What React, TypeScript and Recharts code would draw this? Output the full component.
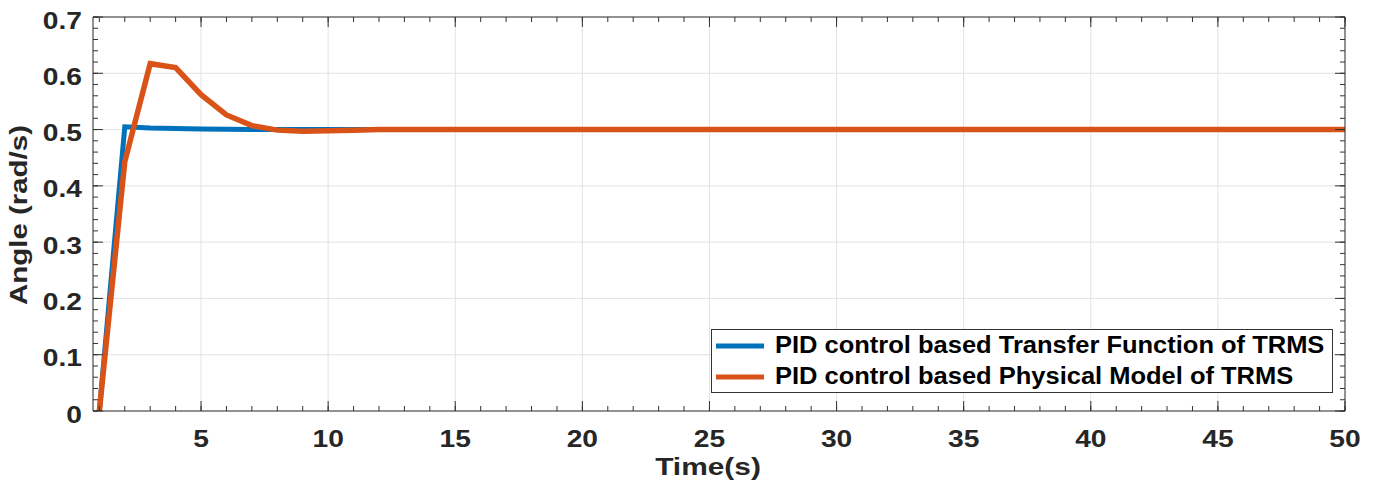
import React from 'react';
import { LineChart, Line, XAxis, YAxis, CartesianGrid, Legend } from 'recharts';

// values (time in s, angle in rad/s)
const time = [1, 2, 3, 4, 5, 6, 7, 8, 9, 10, 11, 12, 13, 50];
const transferFunction = [0, 0.505, 0.503, 0.502, 0.501, 0.5005, 0.5003, 0.5, 0.5, 0.5, 0.5, 0.5, 0.5, 0.5];
const physicalModel = [0, 0.443, 0.617, 0.61, 0.562, 0.526, 0.507, 0.499, 0.497, 0.498, 0.499, 0.5, 0.5, 0.5];

const xTicks = [5, 10, 15, 20, 25, 30, 35, 40, 45, 50];
const xMinorTicks = [
  1, 2, 3, 4, 5, 6, 7, 8, 9, 10, 11, 12, 13, 14, 15, 16, 17, 18, 19, 20, 21, 22, 23, 24, 25,
  26, 27, 28, 29, 30, 31, 32, 33, 34, 35, 36, 37, 38, 39, 40, 41, 42, 43, 44, 45, 46, 47, 48, 49, 50,
];
const yTicks = [0, 0.1, 0.2, 0.3, 0.4, 0.5, 0.6, 0.7];
const yMinorTicks = [
  0, 0.02, 0.04, 0.06, 0.08, 0.1, 0.12, 0.14, 0.16, 0.18, 0.2, 0.22, 0.24, 0.26, 0.28, 0.3, 0.32, 0.34,
  0.36, 0.38, 0.4, 0.42, 0.44, 0.46, 0.48, 0.5, 0.52, 0.54, 0.56, 0.58, 0.6, 0.62, 0.64, 0.66, 0.68, 0.7,
];

const seriesNames = [
  'PID control based Transfer Function of TRMS',
  'PID control based Physical Model of TRMS',
];

const data = time.map((t, i) => ({ t, tf: transferFunction[i], pm: physicalModel[i] }));

const FONT = '"Liberation Sans", Arial, Helvetica, sans-serif';
const INK = '#262626';
const X_DOMAIN: [number, number] = [0.75, 50];
const Y_DOMAIN: [number, number] = [0, 0.7];
const THIN = 0.01; // mirrored axes need a non-zero size to be drawn
const MAJOR = 10;
const MINOR = 5;

const XTick = (props: any) => {
  const { x, y, payload } = props;
  return (
    <text
      transform={`translate(${x},${y + 36}) scale(1.15,1)`}
      textAnchor="middle"
      fontFamily={FONT}
      fontWeight="bold"
      fontSize={24.5}
      fill={INK}
    >
      {payload.value}
    </text>
  );
};

const YTick = (props: any) => {
  const { x, y, payload } = props;
  return (
    <text
      transform={`translate(${x},${y + 11.5}) scale(1.15,1)`}
      textAnchor="end"
      fontFamily={FONT}
      fontWeight="bold"
      fontSize={24.5}
      fill={INK}
    >
      {payload.value}
    </text>
  );
};

// tick marks only, no label
const NoTick = () => null;

const XLabel = () => (
  <text
    transform="translate(708,475) scale(1.3,1)"
    textAnchor="middle"
    fontFamily={FONT}
    fontWeight="bold"
    fontSize={23}
    fill={INK}
  >
    Time(s)
  </text>
);

const YLabel = () => (
  <text
    transform="translate(27,215) rotate(-90) scale(1.28,1)"
    textAnchor="middle"
    fontFamily={FONT}
    fontWeight="bold"
    fontSize={23}
    fill={INK}
  >
    Angle (rad/s)
  </text>
);

const LegendBox = (props: any) => {
  const items = [...(props.payload || [])].sort(
    (a: any, b: any) => seriesNames.indexOf(a.value) - seriesNames.indexOf(b.value),
  );
  return (
    <div
      style={{
        width: 622,
        height: 64,
        border: '1px solid #333',
        background: '#fff',
        boxSizing: 'border-box',
        position: 'relative',
      }}
    >
      {items.map((entry: any, i: number) => (
        <div key={entry.value} style={{ position: 'absolute', left: 0, top: i * 31, height: 31, width: 620 }}>
          <svg width={48} height={6} style={{ position: 'absolute', left: 4, top: 12.5 }}>
            <line x1={0} y1={3} x2={48} y2={3} stroke={entry.color} strokeWidth={5} />
          </svg>
          <span
            style={{
              position: 'absolute',
              left: 63,
              top: 0,
              lineHeight: '31px',
              fontFamily: FONT,
              fontWeight: 'bold',
              fontSize: 23,
              color: '#000',
              whiteSpace: 'nowrap',
              transform: 'scaleX(1.108)',
              transformOrigin: 'left center',
            }}
          >
            {entry.value}
          </span>
        </div>
      ))}
    </div>
  );
};

const frameAxis = { stroke: '#333', strokeWidth: 1 };

export default function App() {
  return (
    <div style={{ position: 'absolute', left: 0, top: 0, background: '#fff' }}>
      <LineChart width={1379} height={485} data={data} margin={{ top: 17, right: 34, bottom: 0, left: 0 }}>
        <CartesianGrid xAxisId="x" yAxisId="y" stroke="#e3e3e3" strokeWidth={1} />

        {/* labelled axes */}
        <XAxis
          xAxisId="x"
          dataKey="t"
          type="number"
          domain={X_DOMAIN}
          allowDataOverflow
          ticks={xTicks}
          interval={0}
          height={74}
          tickLine={false}
          axisLine={false}
          tickSize={0}
          tickMargin={0}
          tick={<XTick />}
          label={() => <XLabel />}
        />
        <YAxis
          yAxisId="y"
          type="number"
          domain={Y_DOMAIN}
          allowDataOverflow
          ticks={yTicks}
          interval={0}
          width={93}
          tickLine={false}
          axisLine={false}
          tickSize={0}
          tickMargin={11}
          tick={<YTick />}
          label={() => <YLabel />}
        />

        {/* box with inward major and minor ticks */}
        <XAxis xAxisId="bMaj" dataKey="t" type="number" domain={X_DOMAIN} allowDataOverflow orientation="bottom" mirror height={THIN}
          ticks={xTicks} interval={0} tickSize={MAJOR} tick={<NoTick />} tickLine={frameAxis} axisLine={frameAxis} />
        <XAxis xAxisId="bMin" dataKey="t" type="number" domain={X_DOMAIN} allowDataOverflow orientation="bottom" mirror height={THIN}
          ticks={xMinorTicks} interval={0} tickSize={MINOR} tick={<NoTick />} tickLine={frameAxis} axisLine={false} />
        <XAxis xAxisId="tMaj" dataKey="t" type="number" domain={X_DOMAIN} allowDataOverflow orientation="top" mirror height={THIN}
          ticks={xTicks} interval={0} tickSize={MAJOR} tick={<NoTick />} tickLine={frameAxis} axisLine={frameAxis} />
        <XAxis xAxisId="tMin" dataKey="t" type="number" domain={X_DOMAIN} allowDataOverflow orientation="top" mirror height={THIN}
          ticks={xMinorTicks} interval={0} tickSize={MINOR} tick={<NoTick />} tickLine={frameAxis} axisLine={false} />
        <YAxis yAxisId="lMaj" type="number" domain={Y_DOMAIN} allowDataOverflow orientation="left" mirror width={THIN}
          ticks={yTicks} interval={0} tickSize={MAJOR} tick={<NoTick />} tickLine={frameAxis} axisLine={frameAxis} />
        <YAxis yAxisId="lMin" type="number" domain={Y_DOMAIN} allowDataOverflow orientation="left" mirror width={THIN}
          ticks={yMinorTicks} interval={0} tickSize={MINOR} tick={<NoTick />} tickLine={frameAxis} axisLine={false} />
        <YAxis yAxisId="rMaj" type="number" domain={Y_DOMAIN} allowDataOverflow orientation="right" mirror width={THIN}
          ticks={yTicks} interval={0} tickSize={MAJOR} tick={<NoTick />} tickLine={frameAxis} axisLine={frameAxis} />
        <YAxis yAxisId="rMin" type="number" domain={Y_DOMAIN} allowDataOverflow orientation="right" mirror width={THIN}
          ticks={yMinorTicks} interval={0} tickSize={MINOR} tick={<NoTick />} tickLine={frameAxis} axisLine={false} />

        <Line
          xAxisId="x"
          yAxisId="y"
          type="linear"
          dataKey="tf"
          name={seriesNames[0]}
          stroke="#0072BD"
          strokeWidth={5}
          dot={false}
          activeDot={false}
          isAnimationActive={false}
        />
        <Line
          xAxisId="x"
          yAxisId="y"
          type="linear"
          dataKey="pm"
          name={seriesNames[1]}
          stroke="#D95319"
          strokeWidth={5.5}
          dot={false}
          activeDot={false}
          isAnimationActive={false}
        />

        <Legend
          layout="vertical"
          align="center"
          verticalAlign="middle"
          content={<LegendBox />}
          wrapperStyle={{ left: 711, top: 329, width: 622, height: 64 }}
        />
      </LineChart>
    </div>
  );
}
